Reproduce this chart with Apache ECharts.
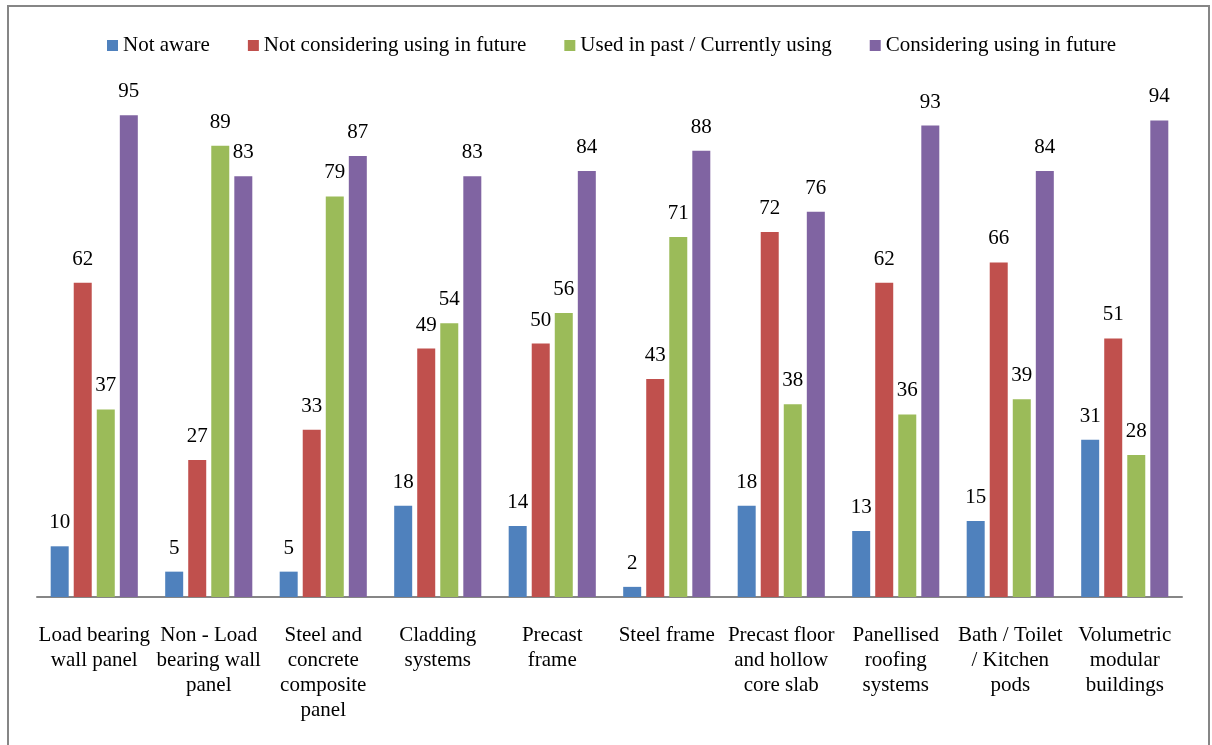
<!DOCTYPE html>
<html>
<head>
<meta charset="utf-8">
<script src="https://cdn.jsdelivr.net/npm/echarts@6/dist/echarts.min.js"></script>
<style>
  html, body { margin: 0; padding: 0; background: #fff; }
  #chart { width: 1212px; height: 745px; }
</style>
</head>
<body>
<div id="chart"></div>
<script>
// Offsite construction methods: awareness and use
const categories = [
  'Load bearing\nwall panel',
  'Non - Load\nbearing wall\npanel',
  'Steel and\nconcrete\ncomposite\npanel',
  'Cladding\nsystems',
  'Precast\nframe',
  'Steel frame',
  'Precast floor\nand hollow\ncore slab',
  'Panellised\nroofing\nsystems',
  'Bath / Toilet\n/ Kitchen\npods',
  'Volumetric\nmodular\nbuildings'
];
const seriesNames = [
  'Not aware',
  'Not considering using in future',
  'Used in past / Currently using',
  'Considering using in future'
];
const notAware       = [10, 5, 5, 18, 14, 2, 18, 13, 15, 31];
const notConsidering = [62, 27, 33, 49, 50, 43, 72, 62, 66, 51];
const usedOrUsing    = [37, 89, 79, 54, 56, 71, 38, 36, 39, 28];
const considering    = [95, 83, 87, 83, 84, 88, 76, 93, 84, 94];

const colors = ['#4F81BD', '#C0504D', '#9BBB59', '#8064A2'];
const values = [notAware, notConsidering, usedOrUsing, considering];
const fontFamily = '"Liberation Serif", "Times New Roman", serif';
const fontSize = 21;

const chart = echarts.init(document.getElementById('chart'), null, { renderer: 'canvas' });

chart.setOption({
  animation: false,
  textStyle: { fontFamily: fontFamily },
  color: colors,
  graphic: [{
    type: 'rect',
    shape: { x: 8, y: 6, width: 1201, height: 800 },
    style: { fill: 'none', stroke: '#868686', lineWidth: 2 },
    silent: true
  }],
  legend: {
    top: 30,
    left: 102,
    itemWidth: 11,
    itemHeight: 11,
    itemGap: 38,
    icon: 'rect',
    textStyle: { fontFamily: fontFamily, fontSize: fontSize, color: '#000' },
    data: seriesNames
  },
  grid: { left: 37, right: 30, top: 90, bottom: 148, containLabel: false },
  xAxis: {
    type: 'category',
    data: categories,
    axisLine: { lineStyle: { color: '#868686', width: 2 } },
    axisTick: { show: false },
    axisLabel: {
      interval: 0,
      margin: 26,
      fontFamily: fontFamily,
      fontSize: fontSize,
      lineHeight: 25,
      color: '#000',
      align: 'center'
    }
  },
  yAxis: {
    type: 'value',
    min: 0,
    max: 100,
    show: false,
    splitLine: { show: false }
  },
  series: values.map((v, i) => ({
    name: seriesNames[i],
    type: 'bar',
    data: v,
    barWidth: 18,
    barGap: '28%',
    itemStyle: { color: colors[i] },
    label: {
      show: true,
      position: 'top',
      distance: 13,
      fontFamily: fontFamily,
      fontSize: fontSize,
      color: '#000'
    }
  }))
});
</script>
</body>
</html>
